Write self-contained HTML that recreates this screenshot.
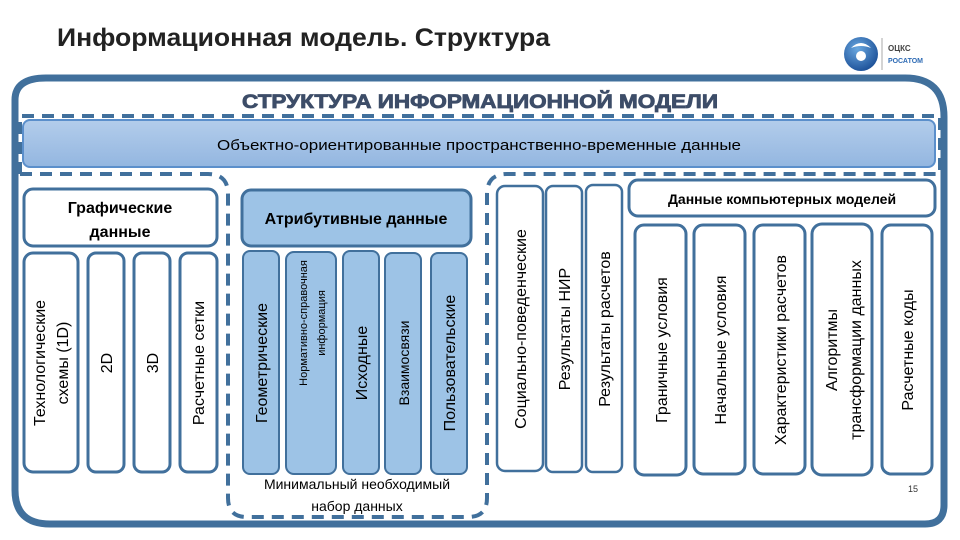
<!DOCTYPE html>
<html><head><meta charset="utf-8"><style>
html,body{margin:0;padding:0;background:#fff;}
svg{display:block;font-family:"Liberation Sans","DejaVu Sans",sans-serif;}
</style></head><body>
<svg width="960" height="540" viewBox="0 0 960 540" xmlns="http://www.w3.org/2000/svg">
<defs>
<linearGradient id="bar" x1="0" y1="0" x2="0" y2="1"><stop offset="0" stop-color="#b3cdeb"/><stop offset="1" stop-color="#93b6e0"/></linearGradient>
<radialGradient id="logo" cx="0.4" cy="0.35" r="0.7"><stop offset="0" stop-color="#6aa8e0"/><stop offset="1" stop-color="#1a4e96"/></radialGradient>
</defs>
<text x="57" y="46" font-size="25" font-weight="bold" fill="#222" textLength="493" lengthAdjust="spacingAndGlyphs">Информационная модель. Структура</text>
<!-- logo -->
<circle cx="861" cy="54" r="17" fill="url(#logo)"/>
<circle cx="861" cy="56" r="5" fill="#fff"/>
<path d="M851 48 Q861 38 871 48 Q861 44 851 48Z" fill="#fff"/>
<line x1="882" y1="38" x2="882" y2="70" stroke="#aaa" stroke-width="1"/>
<text x="888" y="51" font-size="8" fill="#444" font-weight="bold">ОЦКС</text>
<text x="888" y="63" font-size="7" fill="#2e6bb5" font-weight="bold">РОСАТОМ</text>
<!-- outer frame -->
<path d="M46 78 H905 Q944 78 944 117 V505 Q944 524 925 524 H50 Q15 524 15 490 V100 Q15 78 46 78Z" fill="none" stroke="#41709c" stroke-width="7"/>
<text x="480" y="108" font-size="19" font-weight="900" fill="#3d4d68" text-anchor="middle" textLength="476" lengthAdjust="spacingAndGlyphs" stroke="#3d4d68" stroke-width="0.8">СТРУКТУРА ИНФОРМАЦИОННОЙ МОДЕЛИ</text>
<!-- dashed frames -->
<g fill="none" stroke="#41709c" stroke-width="4" stroke-dasharray="12 8">
<path d="M20 174 V116 H940 V174"/>
<path d="M20 174 H208 Q228 174 228 194 V498 Q228 517 247 517 H468 Q487 517 487 498 V194 Q487 174 507 174 H936"/>
</g>
<!-- top bar -->
<rect x="23" y="120" width="912" height="47" rx="7" fill="url(#bar)" stroke="#5b8fcb" stroke-width="2"/>
<text x="479" y="150" font-size="15" fill="#000" text-anchor="middle" textLength="524" lengthAdjust="spacingAndGlyphs">Объектно-ориентированные пространственно-временные данные</text>
<!-- graphic -->
<g stroke="#41709c" stroke-width="3" fill="#fff">
<rect x="24" y="189" width="193" height="57" rx="9"/>
<rect x="24" y="253" width="54" height="219" rx="9"/>
<rect x="88" y="253" width="36" height="219" rx="8"/>
<rect x="134" y="253" width="36" height="219" rx="8"/>
<rect x="180" y="253" width="37" height="219" rx="8"/>
</g>
<g font-size="16" font-weight="bold" text-anchor="middle" fill="#000">
<text x="120" y="213">Графические</text><text x="120" y="237">данные</text>
</g>
<g font-size="16" fill="#000" text-anchor="middle">
<text transform="translate(45,363) rotate(-90)">Технологические</text>
<text transform="translate(68,363) rotate(-90)">схемы (1D)</text>
<text transform="translate(112,363) rotate(-90)">2D</text>
<text transform="translate(158,363) rotate(-90)">3D</text>
<text transform="translate(204,363) rotate(-90)">Расчетные сетки</text>
</g>
<!-- attributive -->
<g stroke="#41709c" fill="#9dc3e6">
<rect x="242" y="190" width="229" height="56" rx="9" stroke-width="3"/>
<rect x="243" y="251" width="36" height="223" rx="7" stroke-width="2"/>
<rect x="286" y="252" width="50" height="222" rx="8" stroke-width="2"/>
<rect x="343" y="251" width="36" height="223" rx="7" stroke-width="2"/>
<rect x="385" y="253" width="36" height="221" rx="7" stroke-width="2"/>
<rect x="431" y="253" width="36" height="221" rx="7" stroke-width="2"/>
</g>
<text x="356" y="224" font-size="16" font-weight="bold" text-anchor="middle" fill="#000">Атрибутивные данные</text>
<g fill="#000" text-anchor="middle">
<text transform="translate(267,363) rotate(-90)" font-size="16">Геометрические</text>
<text transform="translate(307,323) rotate(-90)" font-size="11">Нормативно-справочная</text>
<text transform="translate(325,323) rotate(-90)" font-size="11">информация</text>
<text transform="translate(367,363) rotate(-90)" font-size="16">Исходные</text>
<text transform="translate(409,363) rotate(-90)" font-size="14">Взаимосвязи</text>
<text transform="translate(455,363) rotate(-90)" font-size="16">Пользовательские</text>
</g>
<g font-size="14" text-anchor="middle" fill="#000">
<text x="357" y="489">Минимальный необходимый</text>
<text x="357" y="511">набор данных</text>
</g>
<!-- right -->
<g stroke="#41709c" fill="#fff" stroke-width="2.5">
<rect x="497" y="186" width="46" height="285" rx="8"/>
<rect x="546" y="186" width="36" height="286" rx="7"/>
<rect x="586" y="185" width="36" height="287" rx="7"/>
<rect x="629" y="180" width="306" height="36" rx="9" stroke-width="3"/>
<rect x="635" y="225" width="51" height="250" rx="9" stroke-width="3"/>
<rect x="694" y="225" width="51" height="249" rx="9" stroke-width="3"/>
<rect x="754" y="225" width="51" height="249" rx="9" stroke-width="3"/>
<rect x="812" y="224" width="60" height="251" rx="10" stroke-width="3"/>
<rect x="882" y="225" width="50" height="249" rx="9" stroke-width="3"/>
</g>
<text x="782" y="204" font-size="14" font-weight="bold" text-anchor="middle" fill="#000">Данные компьютерных моделей</text>
<g font-size="16" fill="#000" text-anchor="middle">
<text transform="translate(526,329) rotate(-90)">Социально-поведенческие</text>
<text transform="translate(570,329) rotate(-90)">Результаты НИР</text>
<text transform="translate(610,329) rotate(-90)">Результаты расчетов</text>
<text transform="translate(667,350) rotate(-90)">Граничные условия</text>
<text transform="translate(726,350) rotate(-90)">Начальные условия</text>
<text transform="translate(786,350) rotate(-90)">Характеристики расчетов</text>
<text transform="translate(837,350) rotate(-90)">Алгоритмы</text>
<text transform="translate(861,350) rotate(-90)">трансформации данных</text>
<text transform="translate(913,350) rotate(-90)">Расчетные коды</text>
</g>
<text x="913" y="492" font-size="9" fill="#333" text-anchor="middle">15</text>
</svg>
</body></html>
